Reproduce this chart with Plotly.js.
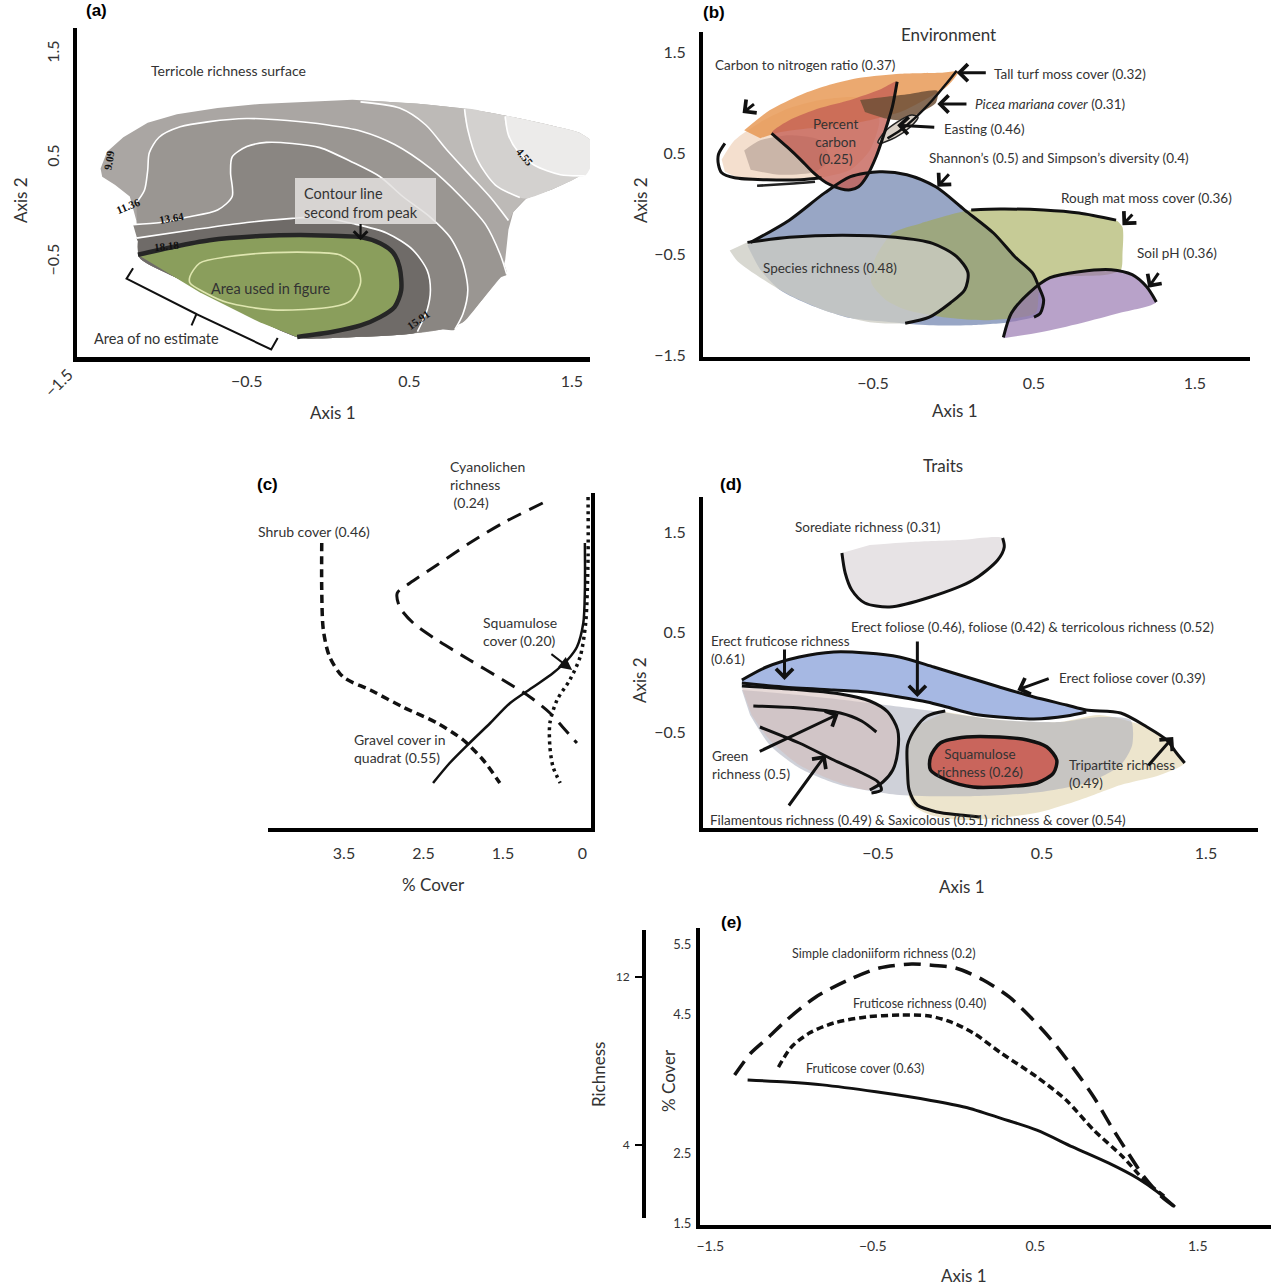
<!DOCTYPE html>
<html><head><meta charset="utf-8">
<script src="https://cdn.plot.ly/plotly-3.0.1.min.js"></script>
<style>html,body{margin:0;padding:0;background:#fff}</style>
</head><body><div id="chart" style="width:1271px;height:1286px"></div>
<script>
// ================= DATA =================
// ---- Panel (a): terricole richness surface (Axis 1, Axis 2) ----
const a_surface_x = [-1.40,-1.36,-1.26,-1.11,-0.93,-0.68,-0.42,-0.17,0.15,0.36,0.57,0.81,0.98,1.18,1.38,1.55,1.66,1.63,1.55,1.38,1.22,1.14,1.11,1.09,1.06,0.94,0.83,0.69,0.44,0.03,-0.17,-0.36,-0.66,-0.91,-1.16,-1.18,-1.22,-1.31,-1.39];
const a_surface_y = [0.40,0.56,0.70,0.84,0.92,0.98,1.02,1.04,1.06,1.04,1.02,0.98,0.94,0.88,0.81,0.74,0.60,0.46,0.33,0.20,0.11,-0.02,-0.19,-0.48,-0.65,-0.88,-1.08,-1.15,-1.20,-1.23,-1.23,-1.11,-0.87,-0.67,-0.46,-0.10,0.13,0.24,0.32];
const a_out909_x = [0.20,0.44,0.60,0.73,0.87,1.00,1.11,1.14,1.22,1.38,1.55,1.63,1.66,1.55,1.38,1.18,0.98,0.81,0.57,0.36,0.20];
const a_out909_y = [1.03,0.98,0.82,0.58,0.34,0.12,-0.10,-0.02,0.11,0.20,0.33,0.46,0.60,0.74,0.81,0.88,0.94,0.98,1.02,1.04,1.05];
const a_out682_x = [0.84,0.86,0.92,1.03,1.18,1.22,1.38,1.55,1.63,1.66,1.55,1.38,1.18,0.98,0.84];
const a_out682_y = [0.97,0.77,0.48,0.24,0.12,0.11,0.20,0.33,0.46,0.60,0.74,0.81,0.88,0.94,0.97];
const a_out455_x = [1.09,1.11,1.17,1.27,1.43,1.58,1.63,1.66,1.55,1.38,1.18,1.09];
const a_out455_y = [0.90,0.72,0.56,0.43,0.34,0.33,0.46,0.60,0.74,0.81,0.88,0.90];
const a_rightEdge_x = [1.06,0.94,0.83];
const a_rightEdge_y = [-0.65,-0.88,-1.08];
const a_bottom_x = [0.69,0.44,0.03,-0.17,-0.36,-0.66,-0.91,-1.16,-1.17];
const a_bottom_y = [-1.15,-1.20,-1.23,-1.23,-1.11,-0.87,-0.67,-0.46,-0.30];
const a_c1364_x = [-1.20,-1.03,-0.87,-0.68,-0.59,-0.60,-0.59,-0.50,-0.38,-0.22,-0.05,0.15,0.32,0.46,0.63,0.75,0.83,0.86,0.83,0.78];
const a_c1364_y = [-0.14,-0.12,-0.07,0.00,0.13,0.36,0.51,0.61,0.65,0.64,0.60,0.46,0.32,0.13,-0.07,-0.26,-0.51,-0.77,-1.00,-1.15];
const a_c1591_x = [-1.18,-0.83,-0.50,-0.22,-0.05,0.15,0.36,0.52,0.61,0.63,0.61,0.55];
const a_c1591_y = [-0.27,-0.19,-0.12,-0.08,-0.07,-0.13,-0.22,-0.38,-0.58,-0.77,-0.96,-1.17];
const a_c1136_x = [-1.18,-1.13,-1.11,-1.10,-1.04,-0.91,-0.73,-0.50,-0.25,-0.01,0.20,0.41,0.63,0.81,0.97,1.06,1.10];
const a_c1136_y = [0.07,0.19,0.38,0.55,0.70,0.80,0.85,0.88,0.86,0.82,0.76,0.63,0.40,0.14,-0.14,-0.43,-0.62];
const a_c909_x = [0.20,0.44,0.60,0.73,0.87,1.00,1.11];
const a_c909_y = [1.04,0.98,0.82,0.58,0.34,0.12,-0.10];
const a_c682_x = [0.84,0.86,0.92,1.03,1.18];
const a_c682_y = [0.97,0.77,0.48,0.24,0.12];
const a_c455_x = [1.09,1.11,1.17,1.27,1.43,1.58];
const a_c455_y = [0.90,0.72,0.56,0.43,0.34,0.33];
const a_c1818_x = [-1.17,-0.97,-0.73,-0.42,-0.17,0.07,0.20,0.32,0.40,0.44,0.45,0.41,0.32,0.20,0.03,-0.19];
const a_c1818_y = [-0.43,-0.36,-0.29,-0.25,-0.24,-0.25,-0.26,-0.32,-0.41,-0.55,-0.77,-0.93,-1.03,-1.11,-1.17,-1.22];
const a_greenEdge_x = [-0.42,-0.79,-1.14];
const a_greenEdge_y = [-1.08,-0.79,-0.46];
const a_peak_x = [-0.85,-0.79,-0.62,-0.34,-0.05,0.07,0.18,0.20,0.14,0.03,-0.34,-0.62,-0.75,-0.85,-0.85];
const a_peak_y = [-0.64,-0.51,-0.45,-0.41,-0.41,-0.43,-0.55,-0.70,-0.87,-0.93,-0.96,-0.89,-0.80,-0.70,-0.64];
const a_bracket_x = [-1.20,-1.24,-0.81,-0.84,-0.81,-0.35,-0.31];
const a_bracket_y = [-0.56,-0.66,-1.00,-1.11,-1.00,-1.34,-1.23];
const a_ticks = [-0.5, 0.5, 1.5];
const a_arrows = [[0.20,-0.12,0.20,-0.29]];

// ---- Panel (b): Environment ----
const b_cnFill_x = [-1.44,-1.36,-1.20,-1.02,-0.83,-0.64,-0.52,-0.46,-0.52,-0.64,-0.83,-1.08,-1.30,-1.42];
const b_cnFill_y = [0.44,0.63,0.81,0.95,1.03,1.06,1.03,0.83,0.53,0.34,0.26,0.23,0.24,0.32];
const b_orange_x = [-1.30,-1.14,-0.95,-0.77,-0.58,-0.33,-0.08,0.03,-0.05,-0.18,-0.33,-0.52,-0.70,-0.89,-1.08,-1.20];
const b_orange_y = [0.73,0.93,1.08,1.18,1.25,1.29,1.30,1.31,1.15,1.03,0.91,0.83,0.78,0.75,0.71,0.65];
const b_inner_x = [-1.30,-1.20,-1.02,-0.83,-0.77,-0.86,-1.08,-1.26];
const b_inner_y = [0.53,0.63,0.68,0.63,0.44,0.32,0.29,0.34];
const b_carbon_x = [-1.13,-1.03,-0.95,-0.87,-0.79,-0.70,-0.64,-0.59,-0.54,-0.48,-0.43,-0.38,-0.35,-0.46,-0.64,-0.83,-1.02,-1.13];
const b_carbon_y = [0.70,0.56,0.44,0.31,0.21,0.15,0.14,0.17,0.27,0.47,0.70,0.96,1.21,1.13,1.03,0.95,0.83,0.70];
const b_picea_x = [-0.58,-0.43,-0.27,-0.10,-0.11,-0.20,-0.30,-0.43,-0.55];
const b_picea_y = [1.03,1.06,1.09,1.12,1.00,0.91,0.83,0.85,0.91];
const b_easting_x = [-0.47,-0.43,-0.35,-0.26,-0.22,-0.27,-0.36,-0.46,-0.47];
const b_easting_y = [0.61,0.71,0.81,0.88,0.86,0.76,0.66,0.60,0.61];
const b_cnLine_x = [-1.42,-1.46,-1.46,-1.44,-1.36,-1.16,-0.95,-0.82];
const b_cnLine_y = [0.60,0.49,0.39,0.31,0.26,0.24,0.24,0.26];
const b_lowLine_x = [-1.22,-1.02,-0.86];
const b_lowLine_y = [0.18,0.20,0.22];
const b_turf_x = [0.02,-0.05,-0.13,-0.24,-0.33,-0.41];
const b_turf_y = [1.32,1.18,1.03,0.85,0.73,0.65];
const b_shannon_x = [-1.26,-1.02,-0.80,-0.64,-0.46,-0.29,-0.11,0.07,0.25,0.38,0.49,0.53,0.56,0.54,0.50];
const b_shannon_y = [-0.38,-0.16,0.11,0.27,0.32,0.29,0.17,-0.06,-0.29,-0.52,-0.68,-0.82,-0.95,-1.08,-1.12];
const b_shannonBase_x = [0.35,0.10,-0.15,-0.39,-0.64,-0.89,-1.08,-1.20,-1.28];
const b_shannonBase_y = [-1.17,-1.20,-1.20,-1.17,-1.13,-1.00,-0.85,-0.65,-0.41];
const b_rough_x = [-0.38,-0.20,0.02,0.11,0.29,0.56,0.78,1.01,1.05,1.05,1.04,0.95,0.64,0.56,0.53,0.51,0.22,-0.02,-0.29,-0.42,-0.51,-0.49,-0.38];
const b_rough_y = [-0.29,-0.19,-0.09,-0.06,-0.05,-0.06,-0.09,-0.16,-0.23,-0.49,-0.65,-0.70,-0.72,-0.75,-0.88,-1.08,-1.15,-1.13,-1.05,-0.95,-0.78,-0.55,-0.29];
const b_roughLine_x = [0.11,0.29,0.56,0.78,1.01];
const b_roughLine_y = [-0.06,-0.05,-0.06,-0.09,-0.16];
const b_species_x = [-1.28,-1.02,-0.69,-0.36,-0.13,0.02,0.09,0.07,-0.02,-0.15,-0.30];
const b_species_y = [-0.38,-0.33,-0.31,-0.33,-0.39,-0.52,-0.68,-0.85,-0.98,-1.12,-1.18];
const b_speciesBase_x = [-0.52,-0.77,-1.02,-1.20,-1.34,-1.39];
const b_speciesBase_y = [-1.17,-1.07,-0.90,-0.73,-0.57,-0.46];
const b_soil_x = [0.31,0.36,0.47,0.60,0.78,0.98,1.11,1.20,1.26];
const b_soil_y = [-1.32,-1.08,-0.88,-0.73,-0.67,-0.65,-0.70,-0.82,-0.97];
const b_soilBase_x = [1.03,0.79,0.54,0.31];
const b_soilBase_y = [-1.08,-1.18,-1.27,-1.33];
const b_ticks_x = [-0.5, 0.5, 1.5];
const b_ticks_y = [-1.5, -0.5, 0.5, 1.5];
const b_arrows = [[-1.23,1.00,-1.31,0.90],[0.21,1.30,0.02,1.30],[0.09,0.99,-0.10,0.99],[-0.11,0.76,-0.35,0.78],[-0.02,0.31,-0.10,0.17],[1.12,-0.09,1.05,-0.21],[1.28,-0.67,1.21,-0.83]];

// ---- Panel (c): % cover vs Axis 2 ----
const c_cyano_x = [1.00,1.50,1.92,2.33,2.67,2.83,2.80,2.63,2.33,1.92,1.50,1.16,0.91,0.75,0.57];
const c_cyano_y = [1.79,1.59,1.39,1.17,0.99,0.89,0.75,0.59,0.42,0.22,0.02,-0.15,-0.31,-0.45,-0.61];
const c_shrub_x = [3.78,3.78,3.76,3.68,3.51,3.17,2.76,2.33,2.00,1.75,1.54];
const c_shrub_y = [1.39,0.92,0.52,0.25,0.05,-0.08,-0.25,-0.41,-0.58,-0.78,-1.01];
const c_gravel_x = [2.38,2.17,1.92,1.66,1.41,1.12,0.87,0.69,0.57,0.49,0.47,0.47];
const c_gravel_y = [-1.01,-0.81,-0.61,-0.41,-0.21,-0.05,0.09,0.22,0.35,0.59,0.92,1.39];
const c_squam_x = [0.43,0.43,0.46,0.53,0.66,0.82,0.91,0.91,0.87,0.78];
const c_squam_y = [1.85,1.25,0.59,0.25,0.02,-0.18,-0.41,-0.65,-0.85,-1.01];
const c_tickvals = [3.5, 2.5, 1.5, 0.5];
const c_ticktext = ['3.5', '2.5', '1.5', '0'];
const c_arrows = [[0.91,0.29,0.63,0.12]];

// ---- Panel (d): Traits ----
const d_sored_x = [-0.72,-0.70,-0.66,-0.58,-0.43,-0.18,0.08,0.23,0.27,0.26];
const d_sored_y = [1.29,1.09,0.92,0.79,0.75,0.85,1.02,1.22,1.35,1.44];
const d_soredTop_x = [0.00,-0.30,-0.55];
const d_soredTop_y = [1.42,1.40,1.37];
const d_top_x = [-1.33,-1.18,-0.98,-0.77,-0.57,-0.37,-0.16,0.04,0.24,0.45,0.65,0.77,0.98,1.14,1.26,1.32,1.37];
const d_top_y = [0.02,0.15,0.25,0.30,0.29,0.25,0.15,0.05,-0.05,-0.15,-0.23,-0.28,-0.31,-0.45,-0.58,-0.71,-0.81];
const d_blueBase_x = [-1.33,-1.08,-0.77,-0.57,-0.37,-0.20,-0.08,0.08,0.24,0.45,0.65,0.77];
const d_blueBase_y = [-0.01,-0.05,-0.08,-0.10,-0.15,-0.20,-0.25,-0.32,-0.35,-0.37,-0.34,-0.30];
const d_bigLoop_x = [-0.09,-0.20,-0.27,-0.32,-0.32,-0.31,-0.26,-0.14,0.00,0.12];
const d_bigLoop_y = [-0.29,-0.34,-0.46,-0.63,-0.88,-1.08,-1.23,-1.30,-1.33,-1.35];
const d_fruti_x = [-1.33,-1.04,-0.73,-0.55,-0.44,-0.38,-0.38,-0.41,-0.47,-0.55];
const d_fruti_y = [-0.04,-0.07,-0.12,-0.19,-0.30,-0.48,-0.70,-0.88,-1.00,-1.08];
const d_green_x = [-1.26,-0.98,-0.73,-0.60,-0.51];
const d_green_y = [-0.24,-0.26,-0.31,-0.39,-0.50];
const d_filam_x = [-1.22,-0.98,-0.77,-0.61,-0.50,-0.48,-0.54];
const d_filam_y = [-0.45,-0.61,-0.78,-0.90,-1.00,-1.08,-1.11];
const d_grayLens_x = [-1.33,-0.98,-0.55,-0.12,0.24,0.61,0.85,1.04,1.05,0.98,0.79,0.49,0.12,-0.37,-0.73,-0.98,-1.16,-1.28];
const d_grayLens_y = [-0.08,-0.13,-0.21,-0.30,-0.38,-0.40,-0.35,-0.38,-0.63,-0.83,-1.00,-1.10,-1.14,-1.13,-1.03,-0.86,-0.63,-0.33];
const d_pink_x = [-1.33,-1.04,-0.73,-0.55,-0.44,-0.38,-0.38,-0.41,-0.47,-0.55,-0.73,-0.98,-1.16,-1.27];
const d_pink_y = [-0.06,-0.08,-0.13,-0.19,-0.30,-0.48,-0.70,-0.88,-1.00,-1.08,-1.01,-0.83,-0.58,-0.33];
const d_beige_x = [-0.09,0.24,0.61,0.85,1.14,1.26,1.32,1.37,1.22,0.98,0.73,0.49,0.24,0.00,-0.18,-0.29,-0.33,-0.33,-0.29];
const d_beige_y = [-0.30,-0.38,-0.40,-0.33,-0.45,-0.58,-0.71,-0.81,-0.93,-1.03,-1.18,-1.30,-1.36,-1.38,-1.33,-1.23,-0.98,-0.68,-0.46];
const d_squam_x = [-0.18,-0.12,0.04,0.24,0.41,0.53,0.59,0.57,0.47,0.24,0.08,-0.08,-0.18,-0.18];
const d_squam_y = [-0.75,-0.61,-0.55,-0.55,-0.58,-0.65,-0.78,-0.91,-1.01,-1.05,-1.05,-0.98,-0.88,-0.75];
const d_ticks_x = [-0.5, 0.5, 1.5];
const d_ticks_y = [-1.5, -0.5, 0.5, 1.5];
const d_arrows = [[-1.07,0.34,-1.07,0.02],[-0.26,0.42,-0.26,-0.15],[0.55,0.04,0.35,-0.08],[-1.23,-0.70,-0.74,-0.32],[-1.05,-1.25,-0.82,-0.73],[1.14,-0.85,1.30,-0.55]];

// ---- Panel (e): richness / % cover vs Axis 1 ----
const e_clad_x = [-1.35,-1.25,-1.14,-1.03,-0.85,-0.65,-0.46,-0.26,-0.15,0.01,0.18,0.34,0.47,0.60,0.73,0.86,0.97,1.06,1.17,1.28,1.36];
const e_clad_rich = [7.33,8.38,9.14,9.95,11.05,11.86,12.43,12.62,12.57,12.43,11.86,11.05,10.10,9.00,7.71,6.29,4.86,3.76,2.48,1.52,1.05];
const e_frRich_x = [-1.08,-1.00,-0.89,-0.74,-0.54,-0.33,-0.15,-0.02,0.12,0.29,0.51,0.69,0.86,1.04,1.17,1.30];
const e_frRich = [7.71,8.67,9.33,9.81,10.10,10.19,10.14,9.86,9.33,8.38,7.24,6.14,4.71,3.43,2.33,1.52];
const e_frCover_x = [-1.27,-1.03,-0.81,-0.48,-0.15,0.07,0.29,0.51,0.73,0.95,1.13,1.26,1.36];
const e_frCover = [3.56,3.53,3.49,3.39,3.27,3.17,3.01,2.84,2.60,2.37,2.15,1.94,1.74];
const e_ticks_x = [-1.5, -0.5, 0.5, 1.5];
const e_ticks_cover = [1.5, 2.5, 4.5, 5.5];
const e_ticks_rich = [4, 12];

// ================= DRAWING =================
const W = 1271, H = 1286;
const PX = v => v / W, PY = v => 1 - v / H;
const FONT = 'Lato, "Open Sans", sans-serif';
const cat = (...arrs) => [].concat(...arrs);

const traces = [];
function area(x, y, xa, ya, color, smooth) {
  traces.push({type:'scatter', mode:'lines', x, y, xaxis:xa, yaxis:ya, fill:'toself', fillcolor:color,
    line:{width:0, color:'rgba(0,0,0,0)', shape: smooth ? 'spline' : 'linear', smoothing:0.7}, hoverinfo:'skip'});
}
function curve(x, y, xa, ya, color, width, dash, smooth) {
  traces.push({type:'scatter', mode:'lines', x, y, xaxis:xa, yaxis:ya,
    line:{color, width, dash: dash || 'solid', shape: smooth === false ? 'linear' : 'spline', smoothing:0.8}, hoverinfo:'skip'});
}

// (a)
area(a_surface_x, a_surface_y, 'x', 'y', '#aaa6a3', false);
area(a_out909_x, a_out909_y, 'x', 'y', '#bdbab7', true);
area(a_out682_x, a_out682_y, 'x', 'y', '#d3d1cf', true);
area(a_out455_x, a_out455_y, 'x', 'y', '#ecebea', true);
area(cat(a_c1136_x, a_rightEdge_x, a_bottom_x), cat(a_c1136_y, a_rightEdge_y, a_bottom_y), 'x', 'y', '#9a9692', true);
area(cat(a_c1364_x, a_bottom_x), cat(a_c1364_y, a_bottom_y), 'x', 'y', '#8a8682', true);
area(cat(a_c1591_x, a_bottom_x.slice(1)), cat(a_c1591_y, a_bottom_y.slice(1)), 'x', 'y', '#6f6b68', true);
area(cat(a_c1818_x, a_greenEdge_x), cat(a_c1818_y, a_greenEdge_y), 'x', 'y', '#8a9e5c', false);
[[a_c909_x,a_c909_y],[a_c682_x,a_c682_y],[a_c455_x,a_c455_y],[a_c1136_x,a_c1136_y],[a_c1364_x,a_c1364_y],[a_c1591_x,a_c1591_y]]
  .forEach(([x,y]) => curve(x, y, 'x', 'y', '#ffffff', 1.6));
curve(a_peak_x, a_peak_y, 'x', 'y', '#dfe6b0', 1.6);
curve(a_c1818_x, a_c1818_y, 'x', 'y', '#262626', 4.5);
curve(a_bracket_x, a_bracket_y, 'x', 'y', '#111', 2, 'solid', false);

// (b)
area(cat(b_shannon_x, b_shannonBase_x), cat(b_shannon_y, b_shannonBase_y), 'x2', 'y2', 'rgba(112,132,175,0.72)', true);
area(b_rough_x, b_rough_y, 'x2', 'y2', 'rgba(160,168,80,0.6)', true);
area(cat(b_species_x, b_speciesBase_x), cat(b_species_y, b_speciesBase_y), 'x2', 'y2', 'rgba(205,205,196,0.78)', true);
area(cat(b_soil_x, b_soilBase_x), cat(b_soil_y, b_soilBase_y), 'x2', 'y2', 'rgba(150,118,175,0.68)', true);
area(b_cnFill_x, b_cnFill_y, 'x2', 'y2', 'rgba(240,212,190,0.75)', true);
area(b_orange_x, b_orange_y, 'x2', 'y2', 'rgba(230,150,80,0.82)', true);
area(b_inner_x, b_inner_y, 'x2', 'y2', 'rgba(160,140,130,0.5)', true);
area(b_carbon_x, b_carbon_y, 'x2', 'y2', 'rgba(196,95,85,0.78)', true);
area(b_picea_x, b_picea_y, 'x2', 'y2', 'rgba(110,80,55,0.85)', true);
area(b_easting_x, b_easting_y, 'x2', 'y2', 'rgba(215,205,195,0.95)', true);
curve(b_easting_x, b_easting_y, 'x2', 'y2', '#222', 1.5);
curve(b_cnLine_x, b_cnLine_y, 'x2', 'y2', '#111', 3);
curve(b_lowLine_x, b_lowLine_y, 'x2', 'y2', '#222', 2.5);
curve(b_carbon_x.slice(0, 13), b_carbon_y.slice(0, 13), 'x2', 'y2', '#111', 3);
curve(b_turf_x, b_turf_y, 'x2', 'y2', '#111', 2.5);
curve(b_shannon_x, b_shannon_y, 'x2', 'y2', '#111', 3);
curve(b_roughLine_x, b_roughLine_y, 'x2', 'y2', '#111', 3);
curve(b_species_x, b_species_y, 'x2', 'y2', '#111', 3);
curve(b_soil_x, b_soil_y, 'x2', 'y2', '#111', 3);

// (c)
curve(c_cyano_x, c_cyano_y, 'x3', 'y3', '#111', 3, '15px,9px');
curve(c_shrub_x, c_shrub_y, 'x3', 'y3', '#111', 3.5, '8px,5px');
curve(c_gravel_x, c_gravel_y, 'x3', 'y3', '#111', 2.5);
curve(c_squam_x, c_squam_y, 'x3', 'y3', '#111', 3.5, '3px,4px');

// (d)
area(cat(d_sored_x, d_soredTop_x), cat(d_sored_y, d_soredTop_y), 'x4', 'y4', '#e7e3e5', true);
area(d_beige_x, d_beige_y, 'x4', 'y4', 'rgba(234,224,196,0.85)', true);
area(d_grayLens_x, d_grayLens_y, 'x4', 'y4', 'rgba(168,172,186,0.55)', true);
area(d_pink_x, d_pink_y, 'x4', 'y4', 'rgba(212,188,184,0.55)', true);
area(cat(d_top_x.slice(0, 12), d_blueBase_x.slice().reverse()), cat(d_top_y.slice(0, 12), d_blueBase_y.slice().reverse()), 'x4', 'y4', 'rgba(150,172,222,0.85)', true);
area(d_squam_x, d_squam_y, 'x4', 'y4', '#c9655c', true);
curve(d_sored_x, d_sored_y, 'x4', 'y4', '#111', 3);
curve(d_top_x, d_top_y, 'x4', 'y4', '#111', 3);
curve(d_blueBase_x, d_blueBase_y, 'x4', 'y4', '#111', 3);
curve(d_bigLoop_x, d_bigLoop_y, 'x4', 'y4', '#111', 3);
curve(d_fruti_x, d_fruti_y, 'x4', 'y4', '#111', 3);
curve(d_green_x, d_green_y, 'x4', 'y4', '#111', 3);
curve(d_filam_x, d_filam_y, 'x4', 'y4', '#111', 3);
curve(d_squam_x, d_squam_y, 'x4', 'y4', '#111', 3.5);

// (e)
curve(e_clad_x, e_clad_rich, 'x5', 'y6', '#111', 3.5, '17px,9px');
curve(e_frRich_x, e_frRich, 'x5', 'y6', '#111', 3.5, '7px,4px');
curve(e_frCover_x, e_frCover, 'x5', 'y5', '#111', 3);

// ---------- axes ----------
const tf = (s) => ({family: FONT, size: s, color: '#333'});
function axis(o) {
  return Object.assign({showgrid:false, zeroline:false, showline:true, linecolor:'#000', linewidth:4,
    ticks:'', fixedrange:true, tickfont: tf(16), tickmode:'array'}, o);
}
const layout = {
  width: W, height: H, margin:{l:0, r:0, t:0, b:0}, showlegend:false,
  paper_bgcolor:'#fff', plot_bgcolor:'rgba(0,0,0,0)',
  xaxis: axis({domain:[PX(77), PX(590)], range:[-1.545, 1.612], anchor:'y', tickvals:a_ticks, ticklabelstandoff:6, linewidth:5}),
  yaxis: axis({domain:[PY(357), PY(28)], range:[-1.413, 1.75], anchor:'x', tickvals:a_ticks, tickangle:-90, ticklabelstandoff:8}),
  xaxis2: axis({domain:[PX(703), PX(1250)], range:[-1.556, 1.842], anchor:'y2', tickvals:b_ticks_x, ticklabelstandoff:9}),
  yaxis2: axis({domain:[PY(357), PY(32)], range:[-1.515, 1.703], anchor:'x2', tickvals:b_ticks_y, ticklabelstandoff:10}),
  xaxis3: axis({domain:[PX(268), PX(591)], range:[4.456, 0.393], anchor:'y3', tickvals:c_tickvals, ticktext:c_ticktext, ticklabelstandoff:8}),
  yaxis3: axis({domain:[PY(828), PY(493)], range:[-1.46, 1.89], anchor:'x3', side:'right', showticklabels:false}),
  xaxis4: axis({domain:[PX(703), PX(1258)], range:[-1.567, 1.817], anchor:'y4', tickvals:d_ticks_x, ticklabelstandoff:8}),
  yaxis4: axis({domain:[PY(828), PY(497)], range:[-1.46, 1.85], anchor:'x4', tickvals:d_ticks_y, ticklabelstandoff:10}),
  xaxis5: axis({domain:[PX(700), PX(1271)], range:[-1.563, 1.951], anchor:'y5', tickvals:e_ticks_x, tickfont:tf(14), ticklabelstandoff:5}),
  yaxis5: axis({domain:[PY(1225), PY(928)], range:[1.48, 5.74], anchor:'x5', tickvals:e_ticks_cover, tickfont:tf(13), ticklabelstandoff:2}),
  yaxis6: axis({domain:[PY(1218), PY(930)], range:[0.524, 14.24], anchor:'free', position:PX(643), side:'left',
    tickvals:e_ticks_rich, ticks:'outside', ticklen:7, tickwidth:2, tickcolor:'#000', linewidth:3.5, tickfont:tf(12), ticklabelstandoff:3}),
  annotations: [], shapes: []
};

// ---------- text ----------
const ann = layout.annotations;
function T(text, x, y, o = {}) {
  ann.push({text, x: PX(x), y: PY(y), xref:'paper', yref:'paper', showarrow:false,
    xanchor: o.xa || 'center', yanchor: 'middle', align: o.xa === 'left' ? 'left' : 'center',
    textangle: o.rot || 0,
    font: {family: o.fam || FONT, size: o.size || 13.5, color: o.color || '#333'}});
}
function arrows(list, xa, ya, o = {}) {
  list.forEach(([tx, ty, hx, hy]) => ann.push({x: hx, y: hy, ax: tx, ay: ty, xref: xa, yref: ya, axref: xa, ayref: ya,
    text:'', showarrow:true, arrowhead: o.head ?? 4, arrowsize: o.size ?? 1.1, arrowwidth: o.w ?? 3,
    arrowcolor:'#111', standoff:0}));
}
const BOLD = {fam:'"Liberation Sans", Arial, sans-serif', size:17, color:'#000'};
const SERIF = {fam:'"Liberation Serif", "DejaVu Serif", serif', size:11, color:'#111'};

// (a)
layout.shapes.push({type:'rect', xref:'paper', yref:'paper', x0:PX(295), x1:PX(436), y0:PY(224), y1:PY(178),
  fillcolor:'rgba(228,226,224,0.85)', line:{width:0}});
T('<b>(a)</b>', 96, 11, BOLD);
T('Terricole richness surface', 228, 71, {size:14});
T('Contour line<br>second from peak', 302, 203, {xa:'left', size:14.5});
T('Area used in figure', 270, 288, {size:14.5});
T('Area of no estimate', 156, 338, {size:14.5});
T('Axis 1', 333, 412, {size:17});
T('Axis 2', 20, 200, {size:17, rot:-90});
T('\u22121.5', 58, 382, {size:16, rot:-45});
T('<b>9.09</b>', 109, 160, Object.assign({rot:-80}, SERIF));
T('<b>11.36</b>', 128, 206, Object.assign({rot:-22}, SERIF));
T('<b>13.64</b>', 171, 218, Object.assign({rot:-10}, SERIF));
T('<b>18.18</b>', 166, 246, Object.assign({rot:-6}, SERIF));
T('<b>15.91</b>', 418, 320, Object.assign({rot:-35}, SERIF));
T('<b>4.55</b>', 525, 157, Object.assign({rot:50}, SERIF));
arrows(a_arrows, 'x', 'y', {w:2.2, size:1.2});

// (b)
T('<b>(b)</b>', 714, 12, BOLD);
T('Environment', 948, 35, {size:17});
T('Carbon to nitrogen ratio (0.37)', 713, 65, {xa:'left'});
T('Tall turf moss cover (0.32)', 992, 74, {xa:'left'});
T('<i>Picea mariana cover</i> (0.31)', 973, 104, {xa:'left'});
T('Easting (0.46)', 942, 129, {xa:'left'});
T('Percent<br>carbon<br>(0.25)', 835, 141, {});
T('Shannon\u2019s (0.5) and Simpson\u2019s diversity (0.4)', 927, 158, {xa:'left'});
T('Rough mat moss cover (0.36)', 1059, 198, {xa:'left'});
T('Soil pH (0.36)', 1135, 253, {xa:'left'});
T('Species richness (0.48)', 761, 268, {xa:'left'});
T('Axis 1', 955, 410, {size:17});
T('Axis 2', 640, 200, {size:17, rot:-90});
arrows(b_arrows, 'x2', 'y2');

// (c)
T('<b>(c)</b>', 267, 484, BOLD);
T('Cyanolichen<br>richness<br> (0.24)', 448, 484, {xa:'left', size:14});
T('Shrub cover (0.46)', 314, 532, {size:14});
T('Squamulose<br>cover (0.20)', 481, 632, {xa:'left', size:14});
T('Gravel cover in<br>quadrat (0.55)', 352, 748, {xa:'left', size:14});
T('% Cover', 433, 884, {size:17});
arrows(c_arrows, 'x3', 'y3', {head:2, w:2, size:1.3});

// (d)
T('Traits', 943, 466, {size:17});
T('<b>(d)</b>', 731, 484, BOLD);
T('Sorediate richness (0.31)', 867, 527, {});
T('Erect foliose (0.46), foliose (0.42) & terricolous richness (0.52)', 849, 627, {xa:'left'});
T('Erect fruticose richness<br>(0.61)', 709, 650, {xa:'left'});
T('Erect foliose cover (0.39)', 1057, 678, {xa:'left'});
T('Green<br>richness (0.5)', 710, 765, {xa:'left'});
T('Squamulose<br>richness (0.26)', 980, 763, {});
T('Tripartite richness<br>(0.49)', 1067, 774, {xa:'left'});
T('Filamentous richness (0.49) & Saxicolous (0.51) richness & cover (0.54)', 708, 820, {xa:'left'});
T('Axis 1', 962, 886, {size:17});
T('Axis 2', 640, 680, {size:17, rot:-90});
arrows(d_arrows, 'x4', 'y4');

// (e)
T('<b>(e)</b>', 731, 923, BOLD);
T('Simple cladoniiform richness (0.2)', 883, 953, {size:12.5});
T('Fruticose richness (0.40)', 919, 1003, {size:12.5});
T('Fruticose cover (0.63)', 865, 1068, {size:12.5});
T('Axis 1', 964, 1275, {size:17});
T('% Cover', 668, 1080, {size:17, rot:-90});
T('Richness', 598, 1075, {size:17, rot:-90});

Plotly.newPlot('chart', traces, layout, {staticPlot:true, displayModeBar:false});
</script></body></html>
